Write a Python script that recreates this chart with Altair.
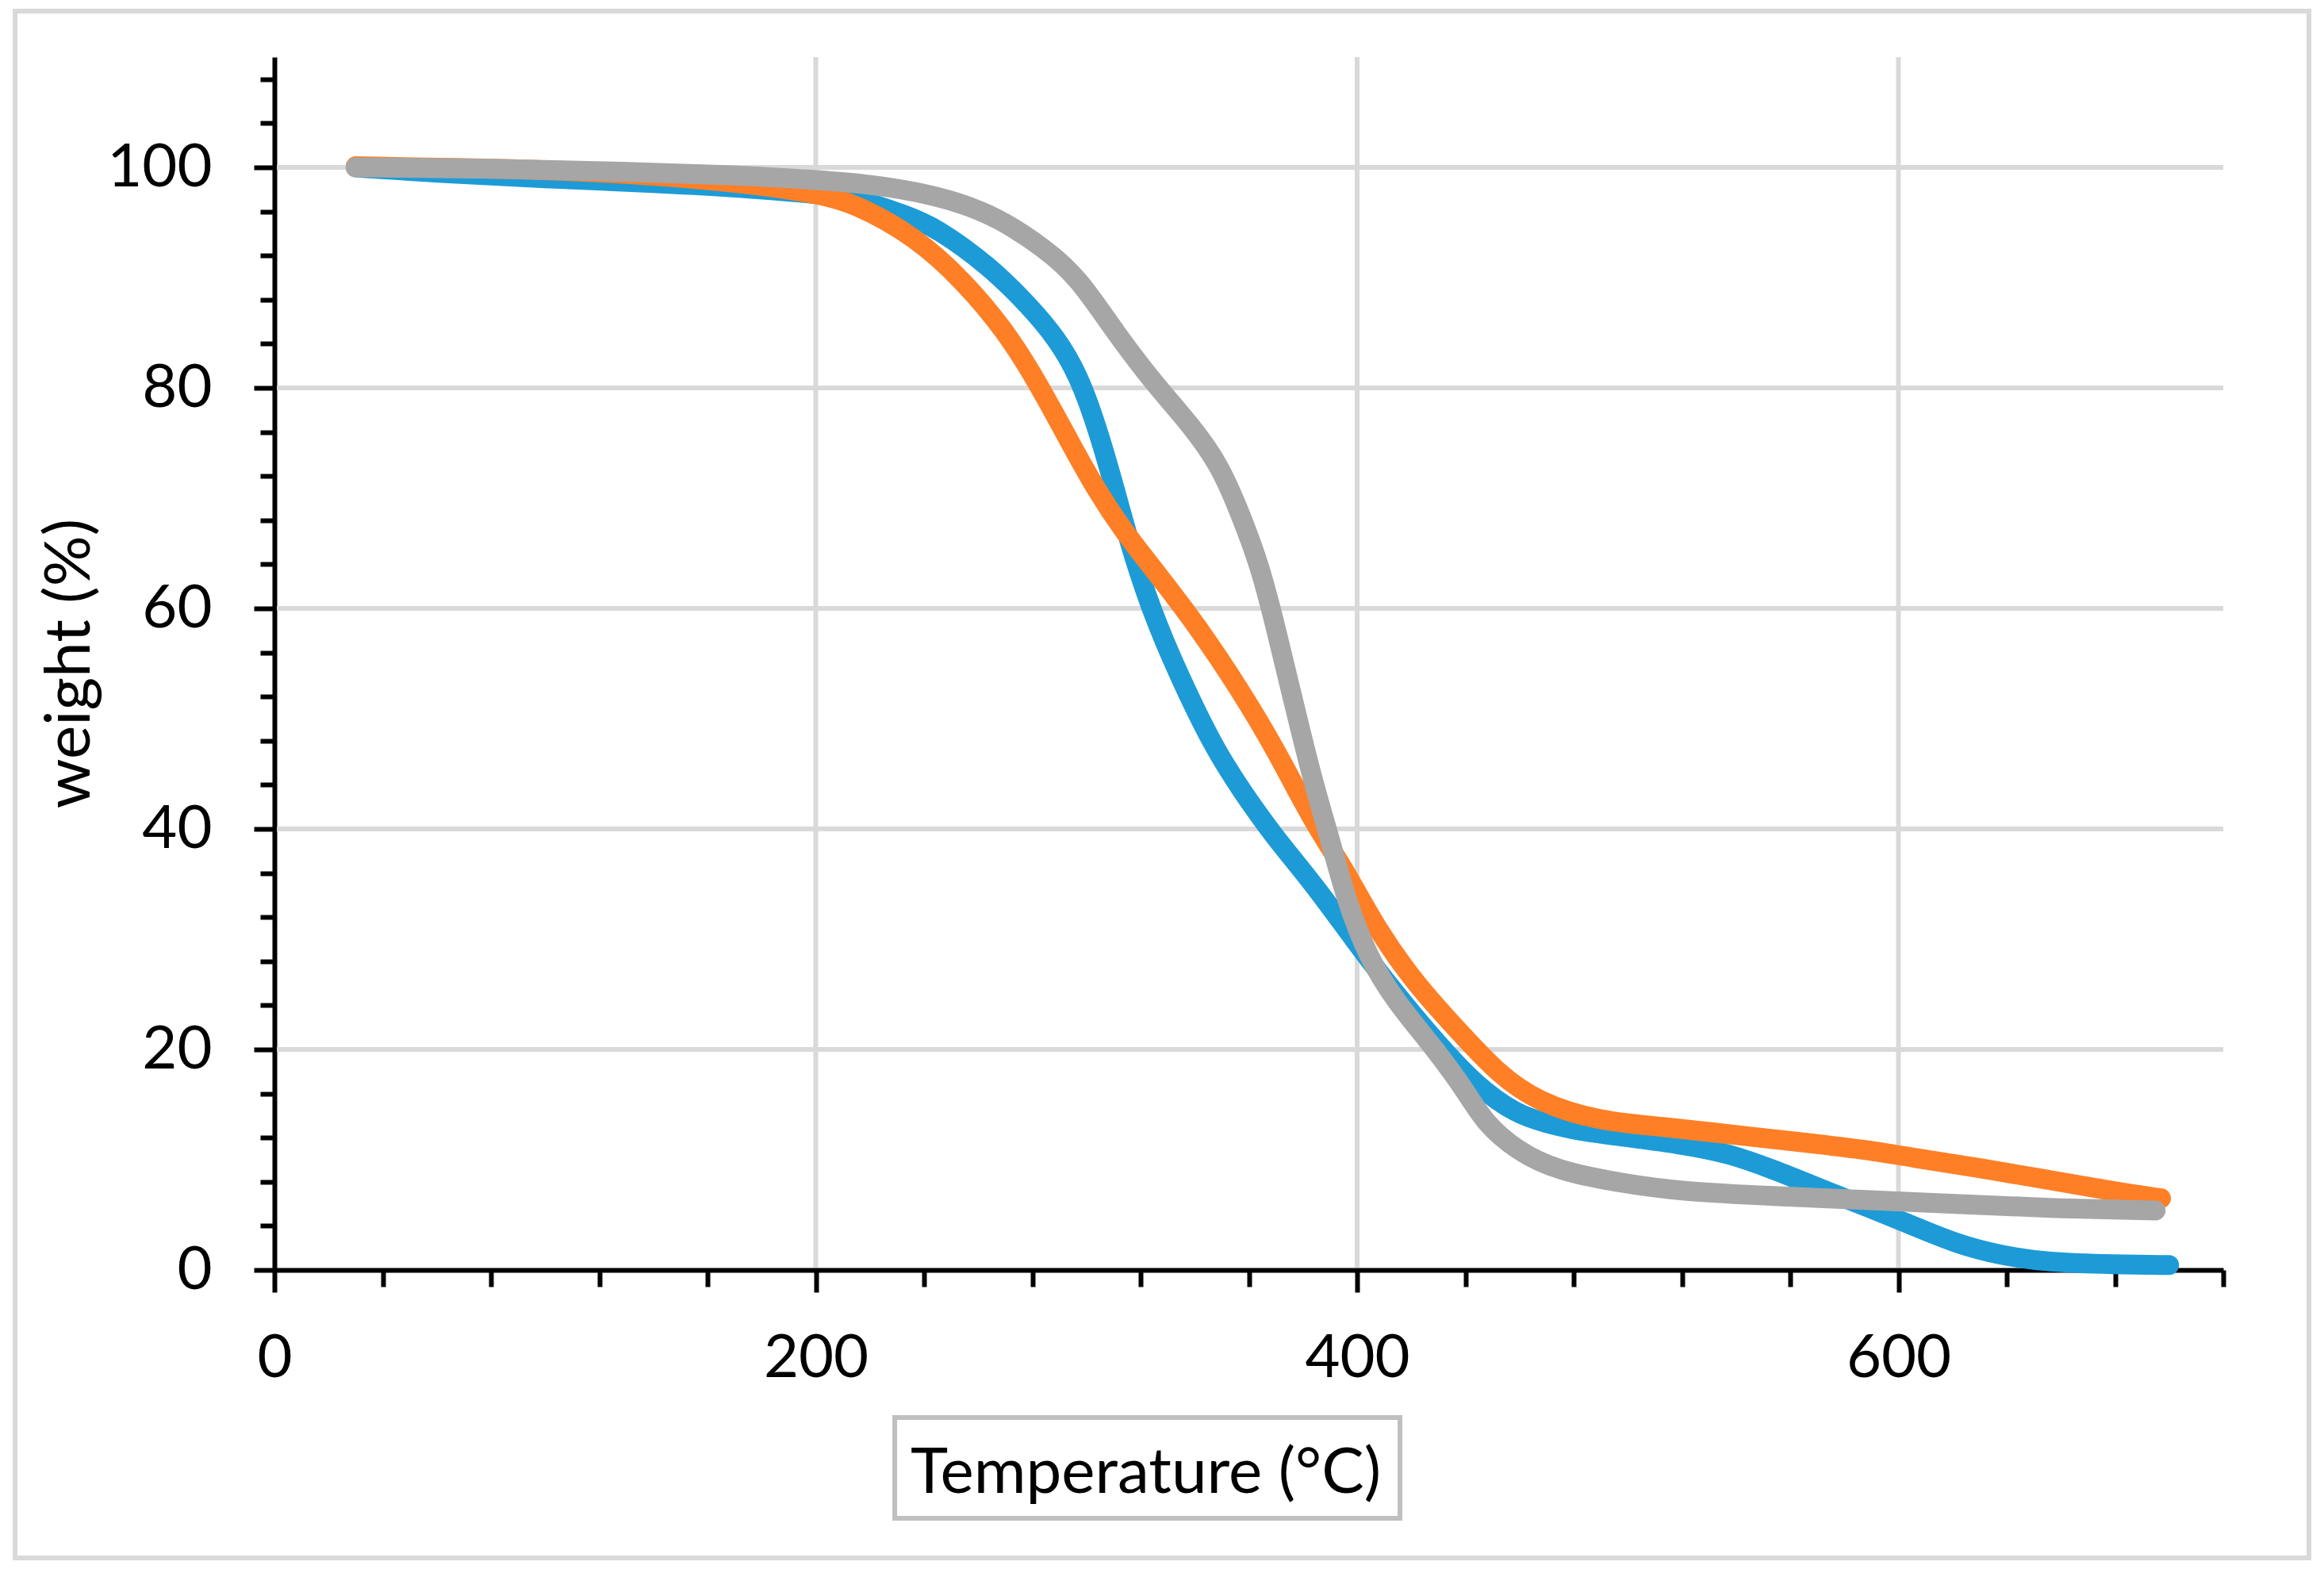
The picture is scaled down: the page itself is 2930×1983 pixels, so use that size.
import altair as alt
import pandas as pd

# ---- data ----
series_names = ["Sample A", "Sample B", "Sample C"]
series_colors = ["#1D9BD7", "#FE7F26", "#A6A6A6"]

blue_T = [30, 60, 100, 140, 170, 195, 214, 234, 244, 264, 279, 289, 297, 304, 310, 316, 324, 334, 347, 357,
          369, 384, 399, 414, 429, 444, 459, 470, 482, 495, 520, 537, 554, 571, 588, 605, 621, 638, 655, 680, 700]
blue_W = [100.0, 99.5, 99.0, 98.6, 98.2, 97.7, 97.3, 95.6, 94.6, 91.1, 87.4, 84.5, 81.2, 76.4, 71.3, 65.8, 59.8,
          54.0, 47.4, 43.6, 39.4, 35.0, 29.9, 25.1, 20.7, 16.7, 14.1, 13.3, 12.6, 12.2, 11.4, 10.6, 9.1, 7.4, 5.75,
          4.06, 2.4, 1.3, 0.7, 0.5, 0.45]

orange_T = [30, 80, 120, 160, 185, 200, 214, 237, 255, 270, 282, 294, 304, 314, 326, 341, 356, 370, 384, 396,
            407, 422, 437, 452, 467, 489, 513, 545, 571, 588, 605, 630, 655, 680, 697]
orange_W = [100.1, 99.9, 99.6, 98.9, 98.2, 97.6, 96.8, 93.7, 89.6, 85.2, 80.5, 75.0, 70.6, 66.9, 63.2, 58.4,
            52.9, 47.2, 40.5, 36.1, 31.0, 25.8, 21.8, 17.8, 15.2, 13.5, 13.0, 12.1, 11.4, 10.9, 10.2, 9.25, 8.2,
            7.1, 6.5]

gray_T = [30, 80, 130, 170, 192, 220, 237, 252, 267, 285, 297, 311, 326, 338, 349, 356, 364, 370, 377, 384,
          390, 396, 404, 414, 429, 441, 447, 459, 474, 497, 520, 554, 588, 621, 655, 695]
gray_W = [100.0, 99.9, 99.6, 99.3, 99.0, 98.5, 97.8, 96.9, 95.5, 92.6, 90.0, 84.9, 80.1, 76.8, 73.1, 69.1, 64.0,
          58.2, 51.0, 44.0, 39.1, 33.5, 28.4, 24.4, 20.0, 15.9, 13.4, 10.8, 9.0, 7.9, 7.1, 6.7, 6.35, 6.0, 5.6, 5.4]

x_tick_values = list(range(0, 721, 40))
y_tick_values = list(range(0, 109, 4))
x_grid_values = [200, 400, 600]
y_grid_values = [20, 40, 60, 80, 100]

x_title = "Temperature (°C)"
y_title = "weight (%)"

# ---- table ----
rows = []
for name, ts, ws in zip(series_names, [blue_T, orange_T, gray_T], [blue_W, orange_W, gray_W]):
    for t, w in zip(ts, ws):
        rows.append({"series": name, "T": t, "W": w})
df = pd.DataFrame(rows)

PW = 2457
PH = 1529
FONT = "Lato"
FS = 76
TFS = 80

xscale = alt.Scale(domain=[0, 720], nice=False, zero=False)
yscale = alt.Scale(domain=[0, 110], nice=False, zero=False)

x_axis = alt.Axis(
    values=x_tick_values,
    labelExpr="datum.value % 200 === 0 ? datum.label : ''",
    grid=False,
    domainColor="black", domainWidth=6,
    tickColor="black", tickWidth=6,
    tickSize={"condition": {"test": "datum.value % 200 === 0", "value": 28}, "value": 21},
    labelFont=FONT, labelFontSize=FS, labelColor="black", labelPadding=46,
    labelFlush=False, labelOverlap=False,
    title=x_title, titleFont=FONT, titleFontSize=TFS, titleFontWeight="normal", titleColor="black",
    titleX=1098, titleY=280, titleBaseline="alphabetic", titleAlign="center",
)

y_axis = alt.Axis(
    values=y_tick_values,
    labelExpr="datum.value % 20 === 0 ? datum.label : ''",
    grid=False,
    domainColor="black", domainWidth=6,
    tickColor="black", tickWidth=6,
    tickSize={"condition": {"test": "datum.value % 20 === 0", "value": 26}, "value": 18},
    labelFont=FONT, labelFontSize=FS, labelColor="black", labelPadding=53,
    labelFlush=False, labelOverlap=False,
    title=y_title, titleFont=FONT, titleFontSize=TFS, titleFontWeight="normal", titleColor="black",
    titleX=-234, titleY=764, titleAngle=270, titleBaseline="alphabetic", titleAlign="center",
)

hgrid = alt.Chart(pd.DataFrame({"W": y_grid_values})).mark_rule(
    color="#D9D9D9", strokeWidth=6
).encode(
    y=alt.Y("W:Q", scale=yscale, axis=y_axis),
    x=alt.value(3),
    x2=alt.value(PW),
)

vgrid = alt.Chart(pd.DataFrame({"T": x_grid_values})).mark_rule(
    color="#D9D9D9", strokeWidth=6
).encode(
    x=alt.X("T:Q", scale=xscale, axis=x_axis),
    y=alt.value(0),
    y2=alt.value(PH - 3),
)

lines = alt.Chart(df).mark_line(
    strokeWidth=25, strokeCap="round", strokeJoin="round", interpolate="basis"
).encode(
    x=alt.X("T:Q", scale=xscale, axis=x_axis),
    y=alt.Y("W:Q", scale=yscale, axis=y_axis),
    color=alt.Color("series:N", scale=alt.Scale(domain=series_names, range=series_colors), legend=None),
)

deco = pd.DataFrame({"k": [1]})

title_box = alt.Chart(deco).mark_rect(
    fill="transparent", stroke="#C0C0C0", strokeWidth=6
).encode(
    x=alt.value(782), x2=alt.value(1419), y=alt.value(1715), y2=alt.value(1842)
)

outer_border = alt.Chart(deco).mark_rect(
    fill="transparent", stroke="#D9D9D9", strokeWidth=6
).encode(
    x=alt.value(-327), x2=alt.value(2565), y=alt.value(-58), y2=alt.value(1892)
)

chart = alt.layer(hgrid, vgrid, lines, title_box, outer_border).properties(
    width=PW,
    height=PH,
    autosize=alt.AutoSizeParams(type="none"),
    padding={"left": 338, "top": 64, "right": 114, "bottom": 368},
    background="white",
).configure_view(stroke=None)

chart.save("out.html", embed_options={"renderer": "svg", "actions": False})
